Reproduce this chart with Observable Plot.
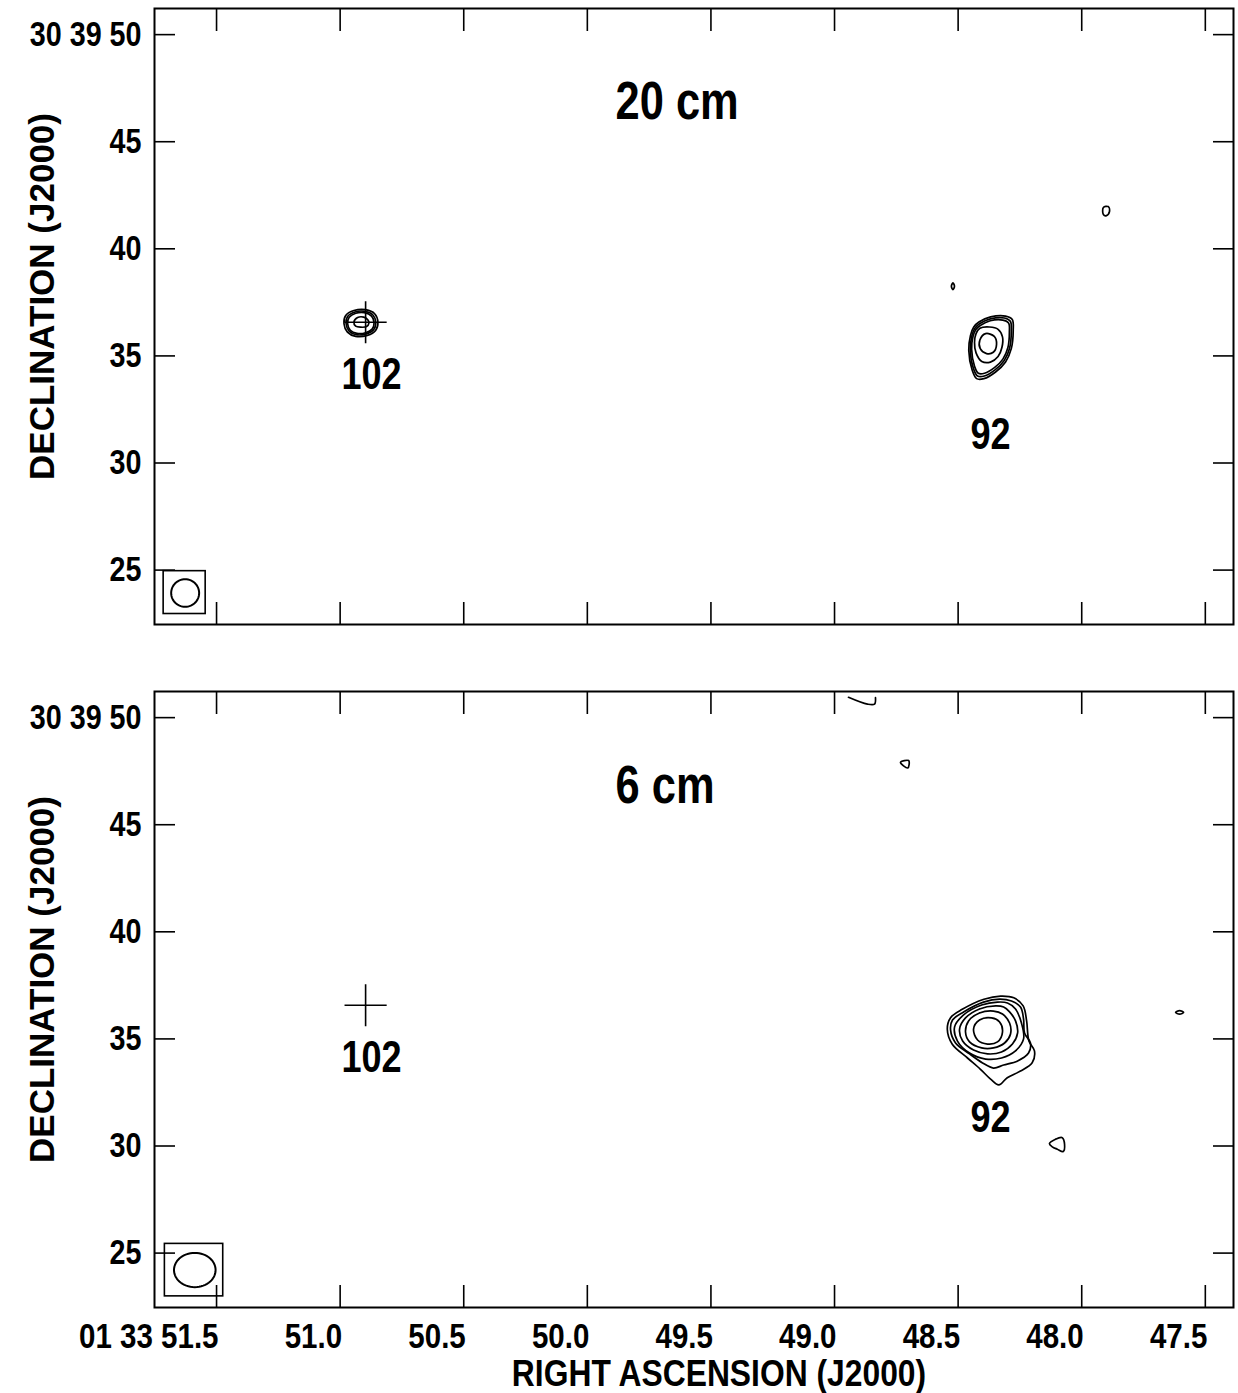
<!DOCTYPE html>
<html><head><meta charset="utf-8">
<script src="https://cdn.jsdelivr.net/npm/d3@7"></script>
<script src="https://cdn.jsdelivr.net/npm/@observablehq/plot@0.6"></script>
<style>
body{margin:0;background:#fff}
#chart{width:1238px;height:1393px;position:relative;background:#fff}
#chart svg{display:block}
</style></head><body><div id="chart"></div>
<script>
// ---------- axes ----------
const xTicks = [51.5, 51.0, 50.5, 50.0, 49.5, 49.0, 48.5, 48.0, 47.5];          // RA seconds (01h33m)
const xTickLabels = ["01 33 51.5", "51.0", "50.5", "50.0", "49.5", "49.0", "48.5", "48.0", "47.5"];
const yTicks = [50, 45, 40, 35, 30, 25];                                          // Dec arcsec (+30 39')
const yTickLabels = ["30 39 50", "45", "40", "35", "30", "25"];
const raDomain = [51.751, 47.386];
const decDomain = [22.46, 51.22];

// ---------- panels ----------
const panels = ["20 cm", "6 cm"];
const titleRA = [49.886, 49.886];
const titleDec = [46.87, 46.82];

// ---------- sources ----------
const sourceNames = ["102", "92"];
const labelRA = [50.873, 48.369];
const labelDec = [34.10, 31.33];
const crossRA = [50.897];
const crossDec = [36.57];

// ---------- beams (semi-axes in arcsec, E-W and N-S) ----------
const beamRA = [51.627, 51.588];
const beamDec = [23.93, 24.21];
const beamEW = [0.73, 1.086];
const beamNS = [0.645, 0.80];
const beamBoxRA = [[51.714, 51.544], [51.709, 51.473]];
const beamBoxDec = [[22.95, 24.95], [22.98, 25.43]];

// ---------- contours: offsets [east ", north "] from a reference position ----------
// 20 cm, source 102 (ref 50.917s, 36.53")
const c20_102 = [
  [[0.78,0.36],[0.35,0.59],[-0.26,0.63],[-0.73,0.44],[-0.90,0.05],[-0.78,-0.34],[-0.35,-0.57],[0.26,-0.62],[0.69,-0.42],[0.87,-0.03]],
  [[0.69,0.30],[0.30,0.52],[-0.24,0.55],[-0.64,0.38],[-0.79,0.03],[-0.68,-0.31],[-0.30,-0.50],[0.23,-0.54],[0.60,-0.37],[0.76,-0.03]],
  [[0.60,0.27],[0.26,0.46],[-0.20,0.49],[-0.57,0.33],[-0.70,0.02],[-0.60,-0.28],[-0.26,-0.45],[0.20,-0.48],[0.54,-0.33],[0.68,-0.03]],
  [[0.35,0.05],[0.16,0.26],[-0.16,0.28],[-0.39,0.14],[-0.43,0.00],[-0.31,-0.16],[0.00,-0.19],[0.26,-0.14]]
];
// 20 cm, source 92 (ref 48.381s, 35.59")
const c20_92 = [
  [[0.45,0.99],[-0.16,1.23],[-0.94,1.27],[-1.29,1.11],[-1.34,0.61],[-1.24,-0.25],[-0.94,-0.87],[-0.42,-1.34],[0.19,-1.65],[0.57,-1.65],[0.80,-1.26],[0.98,-0.33],[0.89,0.37],[0.72,0.76]],
  [[0.40,0.92],[-0.15,1.14],[-0.88,1.18],[-1.19,1.03],[-1.24,0.56],[-1.15,-0.23],[-0.87,-0.80],[-0.39,-1.24],[0.17,-1.53],[0.52,-1.53],[0.74,-1.17],[0.90,-0.30],[0.82,0.34],[0.66,0.70]],
  [[0.36,0.84],[-0.14,1.05],[-0.80,1.08],[-1.10,0.94],[-1.14,0.52],[-1.06,-0.21],[-0.80,-0.74],[-0.36,-1.14],[0.16,-1.40],[0.48,-1.40],[0.68,-1.07],[0.83,-0.28],[0.76,0.31],[0.61,0.64]],
  [[0.40,0.70],[-0.10,0.76],[-0.55,0.65],[-0.78,0.30],[-0.75,-0.20],[-0.55,-0.62],[-0.15,-0.88],[0.30,-0.85],[0.60,-0.45],[0.68,0.05],[0.60,0.45]],
  [[0.10,0.45],[-0.35,0.32],[-0.47,-0.05],[-0.30,-0.42],[0.05,-0.48],[0.38,-0.25],[0.40,0.15]]
];
// 6 cm, source 92 (ref 48.381s, 35.37")
const c6_92 = [
  [[-0.68,1.63],[0.19,1.48],[1.32,1.01],[1.93,0.62],[2.10,0.08],[1.84,-0.62],[1.06,-1.25],[0.37,-1.79],[-0.16,-2.25],[-0.59,-2.52],[-1.03,-2.18],[-1.72,-1.87],[-2.33,-1.48],[-2.45,-0.93],[-2.16,-0.47],[-2.04,0.47],[-1.86,1.17],[-1.37,1.55]],
  [[-0.63,1.49],[0.21,1.35],[1.25,0.89],[1.83,0.51],[1.93,0.05],[1.67,-0.56],[0.94,-1.07],[0.26,-1.49],[-0.31,-1.73],[-0.84,-1.59],[-1.57,-1.40],[-2.14,-1.03],[-2.24,-0.56],[-1.93,-0.09],[-1.88,0.56],[-1.72,1.12],[-1.25,1.40]],
  [[-0.52,1.35],[0.31,1.21],[1.25,0.75],[1.72,0.19],[1.57,-0.47],[0.94,-1.03],[0.10,-1.31],[-0.73,-1.26],[-1.46,-0.93],[-1.88,-0.37],[-1.77,0.37],[-1.46,1.03],[-1.04,1.31]],
  [[-0.42,1.17],[0.42,1.03],[1.15,0.61],[1.46,0.09],[1.30,-0.47],[0.73,-0.89],[0.00,-1.07],[-0.73,-0.98],[-1.30,-0.61],[-1.57,-0.09],[-1.46,0.47],[-1.15,0.89],[-0.84,1.12]],
  [[-0.31,0.93],[0.42,0.84],[0.99,0.47],[1.15,-0.05],[0.94,-0.51],[0.31,-0.79],[-0.31,-0.79],[-0.89,-0.56],[-1.20,-0.14],[-1.15,0.37],[-0.78,0.79]],
  [[-0.21,0.61],[0.42,0.51],[0.73,0.09],[0.52,-0.42],[0.00,-0.61],[-0.52,-0.51],[-0.78,-0.05],[-0.63,0.42]]
];
// small noise contours: [panel, refRA, refDec, closed, points]
const specks = [
  [0, 48.521, 38.25, true, [[0,0.16],[-0.08,0],[0,-0.16],[0.08,0]]],
  [0, 47.900, 41.74, true, [[0.16,0.19],[-0.10,0.23],[-0.16,0],[0,-0.19],[0.16,-0.14]]],
  [1, 48.887, 50.79, false, [[0.73,0.16],[-0.26,-0.16],[-0.63,-0.16],[-0.68,0.14]]],
  [1, 48.713, 47.85, true, [[0.26,0.06],[-0.17,0.14],[-0.12,-0.20]]],
  [1, 47.604, 36.24, true, [[0.21,0],[0,0.08],[-0.21,0],[0,-0.08]]],
  [1, 48.102, 30.05, true, [[0.37,0.06],[0.05,0.27],[-0.30,0.34],[-0.42,0.03],[-0.35,-0.31],[-0.04,-0.20],[0.22,-0.09]]]
];
const contourSets = [
  [0, 50.917, 36.53, c20_102],
  [0, 48.381, 35.59, c20_92],
  [1, 48.381, 35.37, c6_92]
];

// arcsec of RA offset -> seconds of time at Dec +30 39 35
const K = 15 * Math.cos((30 + 39 / 60 + 35 / 3600) * Math.PI / 180);

const FONT = "'Liberation Sans', Arial, Helvetica, sans-serif";

function rowsFor(p) {
  const closed = [], open = [];
  let id = 0;
  for (const [pi, ra, dec, rings] of contourSets) {
    if (pi !== p) continue;
    for (const ring of rings) { id++; for (const [e, n] of ring) closed.push({id, ra: ra + e / K, dec: dec + n}); }
  }
  for (const [pi, ra, dec, isClosed, pts] of specks) {
    if (pi !== p) continue;
    id++;
    for (const [e, n] of pts) (isClosed ? closed : open).push({id, ra: ra + e / K, dec: dec + n});
  }
  return {closed, open};
}

function beamOutline(p) {
  return d3.range(0, 361, 6).map(t => ({
    ra: beamRA[p] + beamEW[p] * Math.cos(t * Math.PI / 180) / K,
    dec: beamDec[p] + beamNS[p] * Math.sin(t * Math.PI / 180)
  }));
}

const xLabelOf = new Map(xTicks.map((t, i) => [t, xTickLabels[i]]));
const yLabelOf = new Map(yTicks.map((t, i) => [t, yTickLabels[i]]));

// horizontally condensed lettering (like Helvetica Narrow Bold) for all non-rotated texts
function condense(svg, k) {
  svg.querySelectorAll("text").forEach(t => {
    if (t.closest(".wide")) return;
    const kk = t.closest(".xtitle") ? 0.86 : k;
    const tr = t.getAttribute("transform") || "";
    t.setAttribute("transform", `${tr} scale(${kk},1)`);
  });
  return svg;
}

function panel(p, layout) {
  const {closed, open} = rowsFor(p);
  const marks = [
    Plot.rect([0], {x1: () => beamBoxRA[p][0], x2: () => beamBoxRA[p][1], y1: () => beamBoxDec[p][0], y2: () => beamBoxDec[p][1], fill: "none", stroke: "black", strokeWidth: 1.6}),
    Plot.line(beamOutline(p), {x: "ra", y: "dec", stroke: "black", strokeWidth: 2}),
    Plot.line(closed, {x: "ra", y: "dec", z: "id", curve: "catmull-rom-closed", stroke: "black", strokeWidth: 1.7}),
    Plot.line(open, {x: "ra", y: "dec", z: "id", curve: "catmull-rom", stroke: "black", strokeWidth: 1.7}),
    Plot.dot(crossRA, {x: d => d, y: (d, i) => crossDec[i], symbol: "plus", r: 13.6, stroke: "black", strokeWidth: 1.6}),
    Plot.text([panels[p]], {x: () => titleRA[p], y: () => titleDec[p], text: d => d, textAnchor: "start", fontSize: 53, fontWeight: "bold", fill: "black"}),
    Plot.text(sourceNames, {x: (d, i) => labelRA[i], y: (d, i) => labelDec[i], text: d => d, fontSize: 44, fontWeight: "bold", fill: "black"}),
    Plot.axisX(xTicks, {anchor: "top", tickSize: -22, tickFormat: () => "", label: null, strokeWidth: 1.6}),
    Plot.axisX(xTicks, {anchor: "bottom", tickSize: -22, tickFormat: () => "", label: null, strokeWidth: 1.6}),
    Plot.axisY(yTicks, {anchor: "left", tickSize: -21, tickFormat: () => "", label: null, strokeWidth: 1.6}),
    Plot.axisY(yTicks, {anchor: "right", tickSize: -21, tickFormat: () => "", label: null, strokeWidth: 1.6}),
    Plot.axisY(yTicks, {anchor: "left", tickSize: 0, tickPadding: 13, tickFormat: d => yLabelOf.get(d), label: null, fontSize: 35, fontWeight: "bold", fill: "black"}),
    Plot.text(["DECLINATION (J2000)"], {frameAnchor: "left", textAnchor: "middle", lineAnchor: "middle", dx: -112, dy: -20, rotate: -90, text: d => d, fontSize: 35, fontWeight: "bold", fill: "black", className: "wide"}),
    Plot.frame({stroke: "black", strokeWidth: 2})
  ];
  if (p === 1) {
    marks.push(
      Plot.axisX(xTicks, {anchor: "bottom", tickSize: 0, tickPadding: 15, tickFormat: d => xLabelOf.get(d), textAnchor: "end", dx: 2, label: null, fontSize: 36, fontWeight: "bold", fill: "black"}),
      Plot.text(["RIGHT ASCENSION (J2000)"], {frameAnchor: "bottom", textAnchor: "middle", lineAnchor: "middle", dx: 25, dy: 67, text: d => d, fontSize: 37, fontWeight: "bold", fill: "black", className: "xtitle"})
    );
  }
  const svg = Plot.plot({
    width: 1238,
    height: layout.height,
    marginLeft: 154,
    marginRight: 5,
    marginTop: layout.top,
    marginBottom: layout.bottom,
    x: {domain: raDomain, label: null},
    y: {domain: decDomain, label: null},
    style: {background: "white", color: "black", fontFamily: FONT, overflow: "visible"},
    marks
  });
  return condense(svg, 0.82);
}

const chart = document.getElementById("chart");
chart.appendChild(panel(0, {height: 660, top: 8, bottom: 36}));
chart.appendChild(panel(1, {height: 733, top: 31, bottom: 86}));
</script></body></html>
